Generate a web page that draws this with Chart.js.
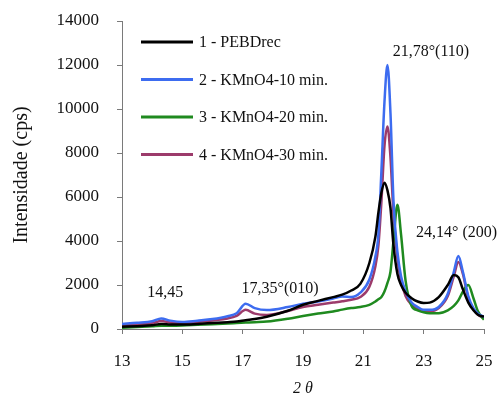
<!DOCTYPE html>
<html>
<head>
<meta charset="utf-8">
<script src="https://cdn.jsdelivr.net/npm/chart.js@4/dist/chart.umd.min.js"></script>
<style>
html,body{margin:0;padding:0;background:#fff;}
#wrap{width:502px;height:398px;}
</style>
</head>
<body>
<div id="wrap"><canvas id="c" width="502" height="398"></canvas></div>
<script>
// 2θ grid (shared by all series)
const twoTheta = [13,13.5,14,14.3,14.6,15,15.5,16,16.5,16.8,17.1,17.4,17.8,18.5,19,19.5,20,20.3,20.6,20.9,21.2,21.4,21.5,21.6,21.7,21.8,21.9,22.0,22.13,22.25,22.4,22.6,22.8,23.0,23.2,23.5,23.8,24.0,24.15,24.3,24.48,24.65,24.8,25];

const seriesLabels = ["1 - PEBDrec","2 - KMnO4-10 min.","3 - KMnO4-20 min.","4 - KMnO4-30 min."];

const pebdrec = [100,130,170,230,210,200,230,270,310,340,400,450,560,830,1100,1280,1450,1560,1750,2050,3000,4200,5300,6200,6650,6300,5500,3800,2500,2000,1650,1400,1250,1180,1200,1450,2000,2450,2350,1800,1200,850,650,560];

const kmno4_10 = [230,280,350,480,380,320,380,450,580,720,1150,950,860,1000,1150,1250,1380,1480,1450,1650,2250,3300,4300,7200,10300,12000,9800,5800,3500,2400,1700,1200,1000,870,870,1000,1600,2600,3320,2600,1500,950,700,550];

const kmno4_20 = [60,90,120,150,150,160,190,220,250,270,290,310,340,470,590,700,800,880,950,1000,1100,1250,1350,1450,1700,2100,2600,4000,5650,4300,2200,1050,850,760,720,720,850,1050,1300,1700,2000,1400,800,420];

const kmno4_30 = [150,200,260,360,300,260,320,390,480,600,870,700,640,820,1000,1100,1200,1260,1330,1450,1920,2850,3800,5800,8300,9200,7800,5200,3200,2200,1500,1100,900,800,800,950,1500,2400,3050,2500,1400,900,650,500];

const yTicks = [0,2000,4000,6000,8000,10000,12000,14000];
const xTicks = [13,15,17,19,21,23,25];

const peakLabels = ["14,45","17,35°(010)","21,78°(110)","24,14° (200)"];
const peakLabelAnchors = [[14.43,1640],[18.24,1820],[23.24,12590],[24.09,4360]];

const colors = ["#000000","#3d6cf0","#1f8a1f","#9c3b6b"];
const allSeries = [pebdrec,kmno4_10,kmno4_20,kmno4_30];

const datasets = allSeries.map((s,i)=>({
  label: seriesLabels[i],
  data: s.map((v,j)=>({x:twoTheta[j], y:v})),
  borderColor: colors[i],
  backgroundColor: colors[i],
  borderWidth: 2.5,
  pointRadius: 0,
  cubicInterpolationMode: 'monotone',
  fill: false
}));

const FONT = "'Liberation Serif', 'Times New Roman', serif";

const extras = {
  id: 'extras',
  afterDatasetsDraw(chart){
    const ctx = chart.ctx;
    const xs = chart.scales.x, ys = chart.scales.y;
    ctx.save();
    ctx.font = "16px " + FONT;
    ctx.fillStyle = "#111";
    ctx.textAlign = "center";
    ctx.textBaseline = "middle";
    peakLabels.forEach((t,i)=>{
      const a = peakLabelAnchors[i];
      ctx.fillText(t, xs.getPixelForValue(a[0]), ys.getPixelForValue(a[1]));
    });
    // legend
    ctx.textAlign = "left";
    chart.data.datasets.forEach((d,i)=>{
      const y = 42 + i*37.5;
      ctx.strokeStyle = d.borderColor;
      ctx.lineWidth = 3;
      ctx.beginPath();
      ctx.moveTo(141,y); ctx.lineTo(193,y); ctx.stroke();
      ctx.fillText(d.label, 199, y+1);
    });
    ctx.restore();
  }
};

new Chart(document.getElementById('c'), {
  type: 'line',
  data: { datasets },
  plugins: [extras],
  options: {
    responsive: false,
    animation: false,
    devicePixelRatio: 1,
    layout: { padding: { top: 21, right: 18, left: 0, bottom: 0 } },
    plugins: { legend: { display: false }, tooltip: { enabled: false } },
    scales: {
      x: {
        type: 'linear', min: 13, max: 25,
        afterBuildTicks: (s)=>{ s.ticks = xTicks.map(v=>({value:v})); },
        afterFit: (s)=>{ s.height = 69; s.paddingLeft = 0; s.paddingRight = 0; },
        grid: { drawOnChartArea: false, tickLength: 5, color: '#7a7a7a', lineWidth: 1 },
        border: { display: true, color: '#7a7a7a', width: 1 },
        ticks: { font: { family: FONT, size: 17 }, color: '#111', padding: 17, maxRotation: 0, callback: (v)=>String(v) },
        title: { display: true, text: '2 θ', font: { family: FONT, size: 16, style: 'italic' }, color: '#111', padding: { top: 0, bottom: 0 } }
      },
      y: {
        min: 0, max: 14000,
        afterBuildTicks: (s)=>{ s.ticks = yTicks.map(v=>({value:v})); },
        afterFit: (s)=>{ s.width = 122; s.paddingTop = 0; s.paddingBottom = 0; },
        grid: { drawOnChartArea: false, tickLength: 5, color: '#7a7a7a', lineWidth: 1 },
        border: { display: true, color: '#7a7a7a', width: 1 },
        ticks: { font: { family: FONT, size: 17 }, color: '#111', padding: 18, callback: (v)=>String(v) },
        title: { display: true, text: 'Intensidade (cps)', font: { family: FONT, size: 20 }, color: '#111', padding: { top: 10, bottom: 0 } }
      }
    }
  }
});
</script>
</body>
</html>
